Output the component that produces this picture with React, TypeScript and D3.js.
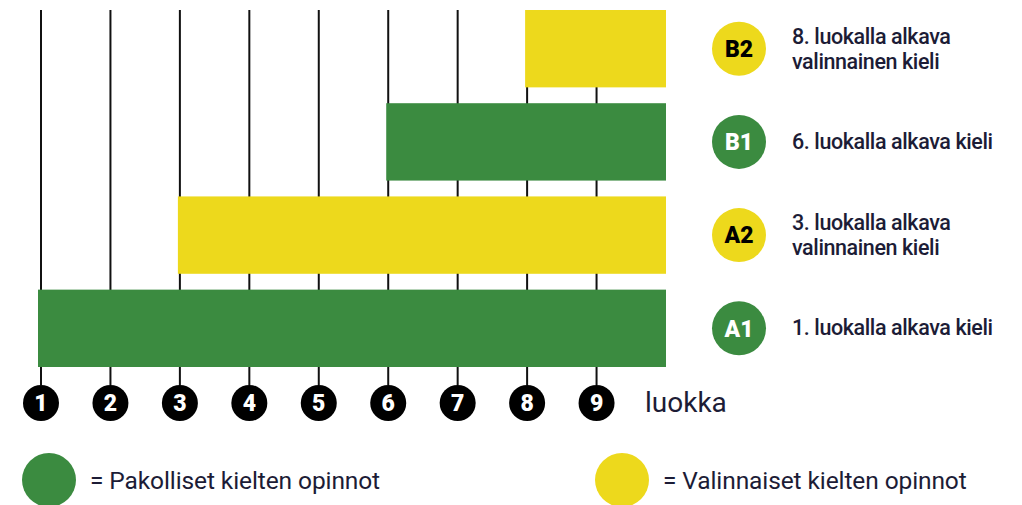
import React from "react";
import * as d3 from "d3";

const levels = ["A1", "A2", "B1", "B2"];
const startGrades = [1, 3, 6, 8];
const kinds = ["pakollinen", "valinnainen", "pakollinen", "valinnainen"];
const descriptions = [
  ["1. luokalla alkava kieli"],
  ["3. luokalla alkava", "valinnainen kieli"],
  ["6. luokalla alkava kieli"],
  ["8. luokalla alkava", "valinnainen kieli"],
];
const grades = [1, 2, 3, 4, 5, 6, 7, 8, 9];
const endGrade = 10;
const axisLabel = "luokka";
const legendKinds = ["pakollinen", "valinnainen"];
const legendLabels = ["= Pakolliset kielten opinnot", "= Valinnaiset kielten opinnot"];

const W = 1022;
const H = 505;
const GREEN = "#3b8b40";
const YELLOW = "#edd91c";
const TEXT = "#1c1c36";
const FONT = "Roboto, 'Noto Sans', sans-serif";

export default function App() {
  const x = d3.scaleLinear().domain([1, endGrade]).range([41, 666]);
  const y = d3
    .scaleBand<string>()
    .domain([...levels].reverse())
    .range([10, 367])
    .paddingInner(0.17)
    .paddingOuter(0);
  const color = d3.scaleOrdinal<string, string>().domain(legendKinds).range([GREEN, YELLOW]);

  const tickY = 403;
  const tickR = 18;
  const labelX = 739;
  const textX = 792;

  return (
    <svg
      width={W}
      height={H}
      style={{ position: "absolute", left: 0, top: 0, background: "#fff" }}
      fontFamily={FONT}
    >
      {grades.map((g) => (
        <line key={"l" + g} x1={x(g)} x2={x(g)} y1={10} y2={tickY - tickR} stroke="#111" strokeWidth={2} />
      ))}
      {levels.map((lv, i) => (
        <rect
          key={"b" + lv}
          x={x(startGrades[i]) - (startGrades[i] === 1 ? 3 : 2)}
          y={y(lv)}
          width={x(endGrade) - x(startGrades[i]) + (startGrades[i] === 1 ? 3 : 2)}
          height={y.bandwidth()}
          fill={color(kinds[i])}
        />
      ))}
      {grades.map((g) => (
        <g key={"t" + g} transform={`translate(${x(g)},${tickY})`}>
          <circle r={tickR} fill="#000" />
          <text
            textAnchor="middle"
            dy="0.36em"
            fill="#fff"
            fontSize={23}
            fontWeight={900}
          >
            {g}
          </text>
        </g>
      ))}
      <text x={645} y={412} fontSize={28} fill={TEXT}>
        {axisLabel}
      </text>
      {levels.map((lv, i) => {
        const cy = (y(lv) as number) + y.bandwidth() / 2;
        const lines = descriptions[i];
        const isGreen = kinds[i] === "pakollinen";
        return (
          <g key={"r" + lv}>
            <circle cx={labelX} cy={cy} r={27} fill={color(kinds[i])} />
            <text
              x={labelX}
              y={cy}
              dy="0.36em"
              textAnchor="middle"
              fontSize={23}
              fontWeight={900}
              fill={isGreen ? "#fff" : "#000"}
            >
              {lv}
            </text>
            {lines.map((ln, j) => (
              <text
                key={j}
                x={textX}
                y={cy + (lines.length === 1 ? 7 : -5 + j * 25)}
                fontSize={21.5}
                fontWeight={500}
                fill={TEXT}
                letterSpacing={-0.4}
              >
                {ln}
              </text>
            ))}
          </g>
        );
      })}
      {legendKinds.map((k, i) => {
        const cx = i === 0 ? 49 : 622;
        return (
          <g key={"lg" + k}>
            <circle cx={cx} cy={480} r={27} fill={color(k)} />
            <text x={cx + 41} y={489} fontSize={24.5} fill={TEXT} letterSpacing={-0.1}>
              {legendLabels[i]}
            </text>
          </g>
        );
      })}
    </svg>
  );
}
